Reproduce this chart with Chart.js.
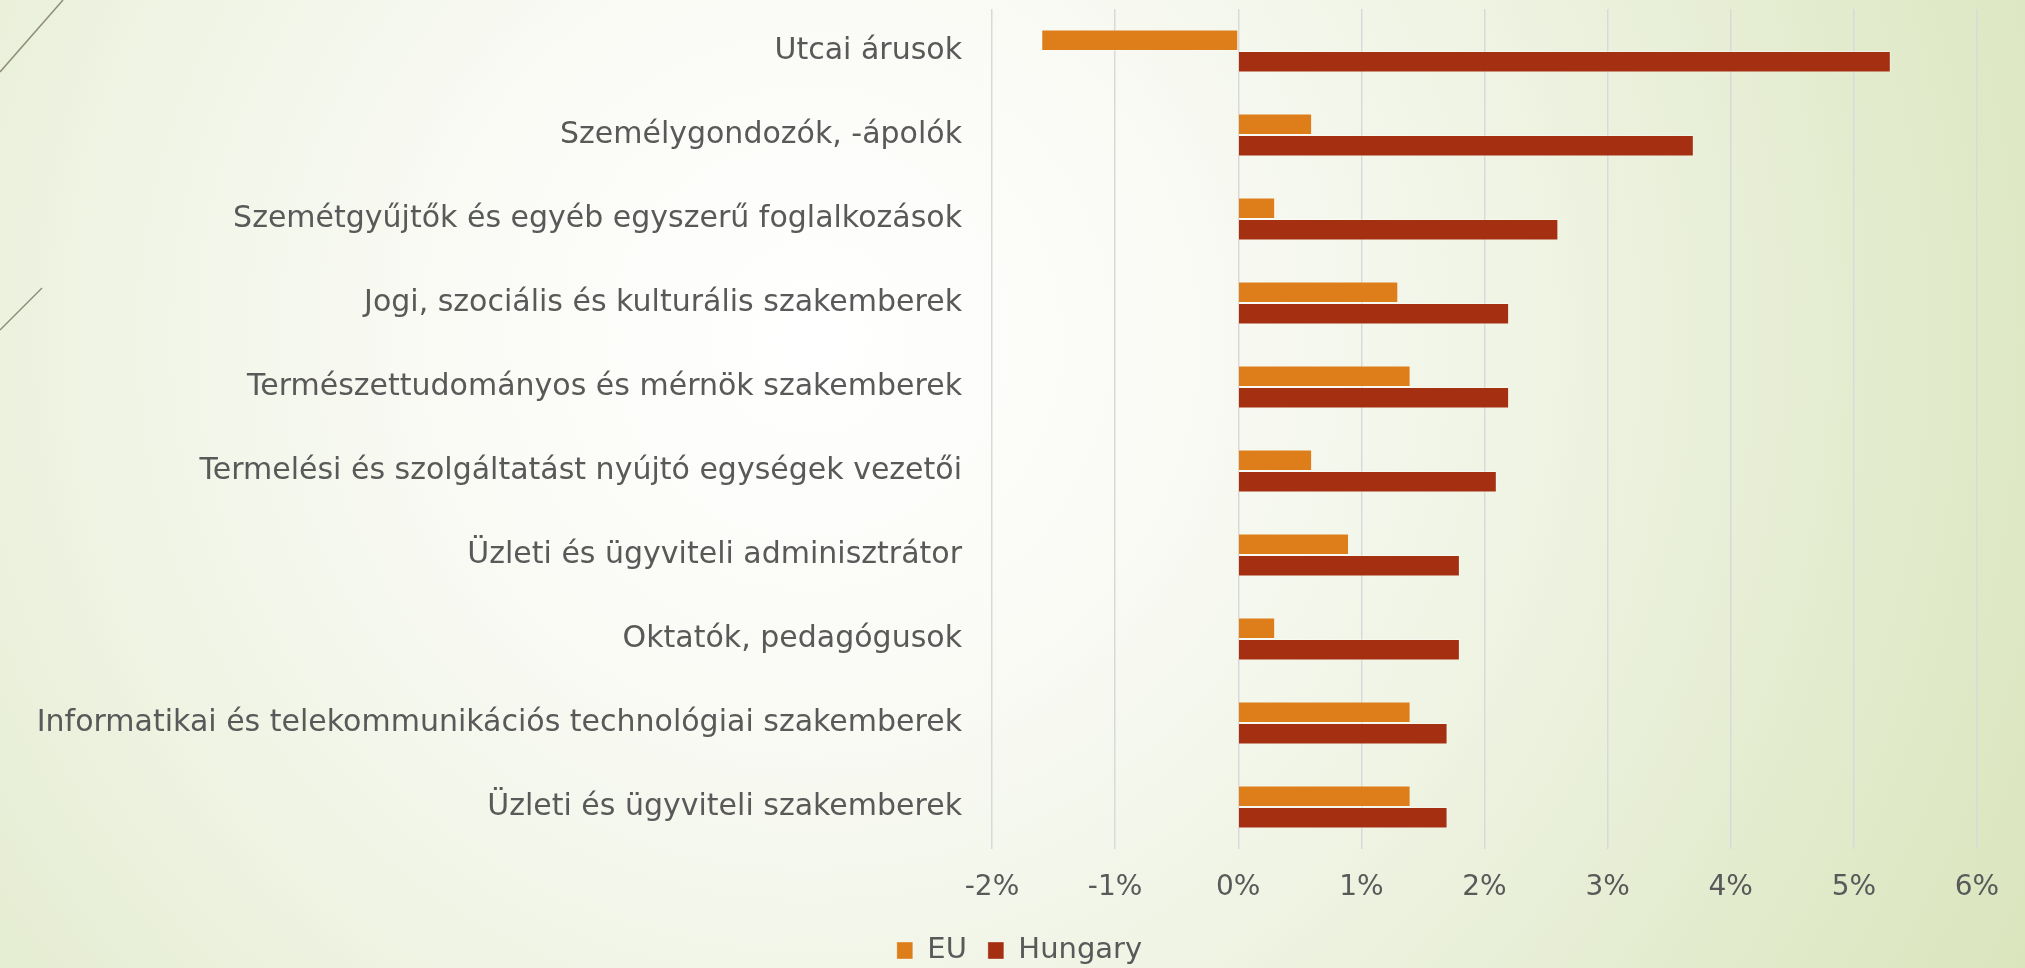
<!DOCTYPE html>
<html>
<head>
<meta charset="utf-8">
<script src="https://cdn.jsdelivr.net/npm/chart.js@4/dist/chart.umd.min.js"></script>
<style>
  html, body { margin: 0; padding: 0; overflow: hidden; }
  body {
    width: 2025px; height: 968px; position: relative;
    background: radial-gradient(circle farthest-corner at 40% 35%, #ffffff 0%, #fafbf6 25%, #eef3e2 55%, #e0e9c8 85%, #dae5bd 100%);
  }
  #deco { position: absolute; left: 0; top: 0; z-index: 0; }
  #chart { position: absolute; left: 0; top: 0; z-index: 1; }
</style>
</head>
<body>
<svg id="deco" width="2025" height="968">
  <line x1="0" y1="72" x2="63" y2="0" stroke="#8f8c79" stroke-width="1.5"/>
  <line x1="0" y1="330" x2="42" y2="288" stroke="#8f8c79" stroke-width="1.5"/>
</svg>
<canvas id="chart" width="2025" height="968"></canvas>
<script>
const categories = [
  "Utcai árusok",
  "Személygondozók, -ápolók",
  "Szemétgyűjtők és egyéb egyszerű foglalkozások",
  "Jogi, szociális és kulturális szakemberek",
  "Természettudományos és mérnök szakemberek",
  "Termelési és szolgáltatást nyújtó egységek vezetői",
  "Üzleti és ügyviteli adminisztrátor",
  "Oktatók, pedagógusok",
  "Informatikai és telekommunikációs technológiai szakemberek",
  "Üzleti és ügyviteli szakemberek"
];
const seriesNames = ["EU", "Hungary"];
const euValues = [-1.6, 0.6, 0.3, 1.3, 1.4, 0.6, 0.9, 0.3, 1.4, 1.4];
const huValues = [5.3, 3.7, 2.6, 2.2, 2.2, 2.1, 1.8, 1.8, 1.7, 1.7];
const xTickValues = [-2, -1, 0, 1, 2, 3, 4, 5, 6];

const textColor = '#595959';
const fontFamily = '"DejaVu Sans", "Liberation Sans", sans-serif';

const legendShift = {
  id: 'legendShift',
  afterLayout(chart) {
    const l = chart.legend;
    if (l) { l.left += 31; l.right += 31; }
  }
};

new Chart(document.getElementById('chart'), {
  type: 'bar',
  data: {
    labels: categories,
    datasets: [
      {
        label: seriesNames[0],
        data: euValues,
        backgroundColor: '#DE7E1A',
        borderColor: 'rgba(255,255,255,0.35)',
        borderWidth: 1,
        categoryPercentage: 0.512,
        barPercentage: 1.0
      },
      {
        label: seriesNames[1],
        data: huValues,
        backgroundColor: '#A52F11',
        borderColor: 'rgba(255,255,255,0.35)',
        borderWidth: 1,
        categoryPercentage: 0.512,
        barPercentage: 1.0
      }
    ]
  },
  plugins: [legendShift],
  options: {
    indexAxis: 'y',
    responsive: false,
    animation: false,
    layout: { padding: { top: 9, right: 48, bottom: -7, left: 0 } },
    plugins: {
      tooltip: { enabled: false },
      legend: {
        position: 'bottom',
        labels: {
          boxWidth: 16,
          boxHeight: 17,
          padding: 21,
          color: textColor,
          font: { family: fontFamily, size: 29 }
        }
      }
    },
    scales: {
      x: {
        type: 'linear',
        min: -2,
        max: 6,
        afterBuildTicks: (scale) => { scale.ticks = xTickValues.map(v => ({ value: v })); },
        afterFit: (scale) => { scale.height = 66; scale.paddingLeft = 0; scale.paddingRight = 0; },
        ticks: {
          padding: 22,
          color: textColor,
          font: { family: fontFamily, size: 28 },
          callback: (v) => v + '%'
        },
        grid: { color: '#d9d9d9', lineWidth: 1.5, drawTicks: false },
        border: { display: false }
      },
      y: {
        afterFit: (scale) => { scale.width = 992; scale.paddingTop = 0; scale.paddingBottom = 0; },
        ticks: {
          padding: 30,
          color: textColor,
          font: { family: fontFamily, size: 30 }
        },
        grid: { display: false, drawTicks: false },
        border: { display: false }
      }
    }
  }
});
</script>
</body>
</html>
